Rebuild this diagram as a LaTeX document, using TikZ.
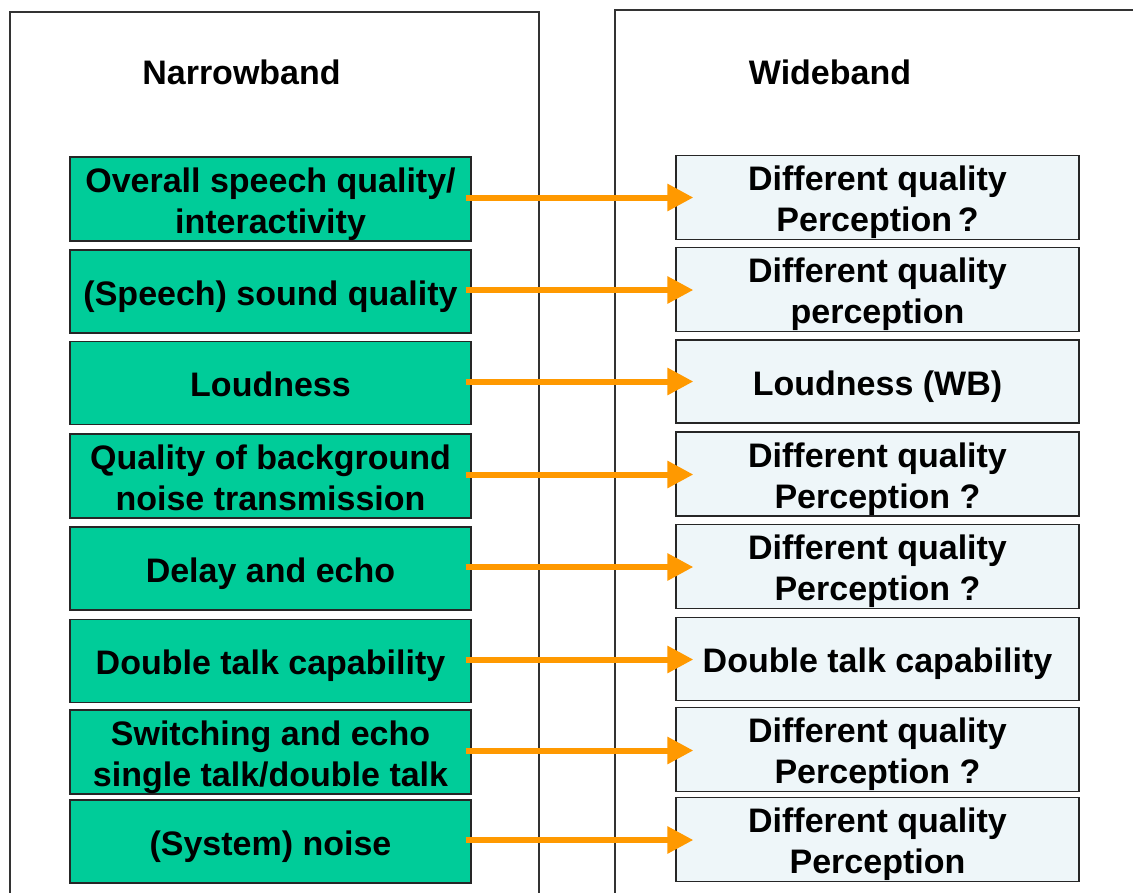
\documentclass[tikz,border=0pt]{standalone}
\usepackage{fontspec}
\setmainfont{Liberation Sans}
\usetikzlibrary{arrows.meta}
\definecolor{nbgreen}{HTML}{00CC99}
\definecolor{wbfill}{HTML}{EEF6F9}
\definecolor{arrorange}{HTML}{FF9900}
\newcommand{\myTop}{\rule{0pt}{35pt}}
\newcommand{\myBot}{\rule[-8pt]{0pt}{8pt}}
\begin{document}
\begin{tikzpicture}[x=1pt,y=-1pt,
  nbbox/.style={draw=black!85, line width=1.3pt, fill=nbgreen, minimum width=401pt, minimum height=83pt, align=center, font=\bfseries\fontsize{34}{41}\selectfont, inner sep=0pt},
  wbbox/.style={nbbox, fill=wbfill, minimum width=403pt},
  panel/.style={draw=black!80, line width=1.2pt},
  title/.style={font=\bfseries\fontsize{34}{40}\selectfont},
  conn/.style={draw=arrorange, line width=6pt, -{Triangle[length=26pt,width=26pt]}}]
\useasboundingbox (0,0) rectangle (1133,892);
\clip (0,0) rectangle (1133,892);
\fill[white] (0,0) rectangle (1133,892);
\draw[panel] (10,950) -- (10,12) -- (539,12) -- (539,950);
\draw[panel] (615,950) -- (615,10) -- (1150,10);
\node[title] (nbt) at (241.5,72) {Narrowband};
\node[title] (wbt) at (830,72) {Wideband};
% left boxes
\node[nbbox] (l1) at (270.5,199) {\myTop Overall speech quality/\\interactivity\myBot};
\node[nbbox] (l2) at (270.5,291.5) {\myTop(Speech) sound quality\myBot};
\node[nbbox] (l3) at (270.5,383) {\myTop Loudness\myBot};
\node[nbbox] (l4) at (270.5,476) {\myTop Quality of background\\noise transmission\myBot};
\node[nbbox] (l5) at (270.5,568.5) {\myTop Delay and echo\myBot};
\node[nbbox] (l6) at (270.5,661) {\myTop Double talk capability\myBot};
\node[nbbox] (l7) at (270.5,752) {\myTop Switching and echo\\single talk/double talk\myBot};
\node[nbbox] (l8) at (270.5,841.5) {\myTop(System) noise\myBot};
% right boxes
\node[wbbox] (r1) at (877.5,197.5) {\myTop Different quality\\Perception\,?\myBot};
\node[wbbox] (r2) at (877.5,289.5) {\myTop Different quality\\perception\myBot};
\node[wbbox] (r3) at (877.5,381.5) {\myTop Loudness (WB)\myBot};
\node[wbbox] (r4) at (877.5,474) {\myTop Different quality\\Perception ?\myBot};
\node[wbbox] (r5) at (877.5,566.5) {\myTop Different quality\\Perception ?\myBot};
\node[wbbox] (r6) at (877.5,659) {\myTop Double talk capability\myBot};
\node[wbbox] (r7) at (877.5,749.5) {\myTop Different quality\\Perception ?\myBot};
\node[wbbox] (r8) at (877.5,839.5) {\myTop Different quality\\Perception\myBot};
% connectors
\foreach \i in {1,...,8}{
  \draw[conn] ([xshift=-6pt,yshift=1.5pt]l\i.east) -- ([xshift=18pt,yshift=1.5pt]l\i.east -| r\i.west);
}
\end{tikzpicture}
\end{document}
